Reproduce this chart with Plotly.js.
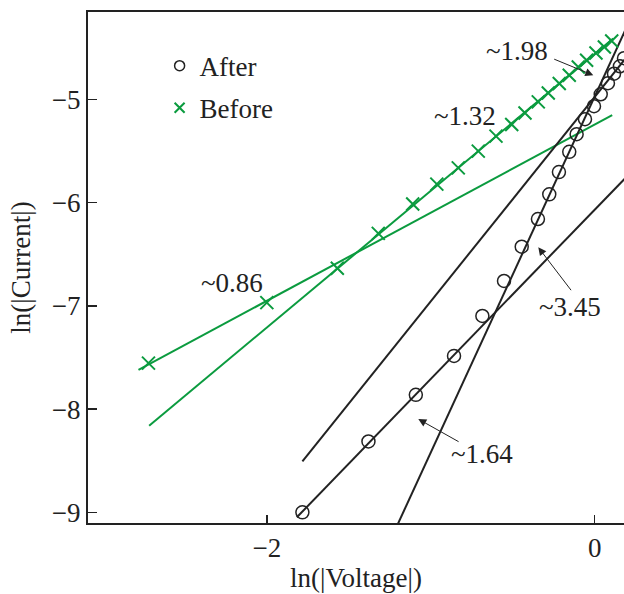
<!DOCTYPE html>
<html>
<head>
<meta charset="utf-8">
<script src="https://cdn.plot.ly/plotly-3.0.1.min.js"></script>
<style>html,body{margin:0;padding:0;background:#fff;}#chart{width:624px;height:594px;}</style>
</head>
<body>
<div id="chart"></div>
<script>
// Measured data: "Before" (green crosses)
var beforeX = [-2.722, -2.000, -1.570, -1.320, -1.110, -0.963, -0.832, -0.710, -0.602, -0.506,
               -0.425, -0.344, -0.283, -0.216, -0.155, -0.100, -0.049, 0.008, 0.059, 0.104];
var beforeY = [-7.554, -6.968, -6.635, -6.297, -6.013, -5.820, -5.662, -5.500, -5.355, -5.242,
               -5.130, -5.023, -4.936, -4.845, -4.765, -4.685, -4.620, -4.549, -4.491, -4.433];
// "After" (black open circles)
var afterX = [-1.783, -1.380, -1.091, -0.858, -0.685, -0.553, -0.445, -0.346, -0.277, -0.218,
              -0.155, -0.110, -0.059, -0.004, 0.037, 0.081, 0.118, 0.154, 0.179];
var afterY = [-9.000, -8.313, -7.861, -7.484, -7.097, -6.758, -6.426, -6.158, -5.919, -5.703,
              -5.507, -5.336, -5.191, -5.065, -4.949, -4.842, -4.750, -4.678, -4.600];
// Fitted lines (end points)
var fit086X = [-2.783, 0.107], fit086Y = [-7.619, -5.152];
var fit132X = [-2.718, 0.113], fit132Y = [-8.160, -4.410];
var fit198X = [-1.783, 0.250], fit198Y = [-8.507, -4.480];
var fit345X = [-1.226, 0.250], fit345Y = [-9.200, -4.110];
var fit164X = [-1.817, 0.250], fit164Y = [-9.048, -5.658];
var slopeLabels = ['~1.98', '~1.32', '~0.86', '~3.45', '~1.64'];
var seriesNames = ['After', 'Before'];
var xTicks = [-2, 0];
var yTicks = [-9, -8, -7, -6, -5];

var GREEN = '#0b9b3f', BLACK = '#222222';
var FONT = 'Liberation Serif, Times New Roman, serif';
var FS = 27;

function lineTrace(x, y, color) {
  return {x: x, y: y, mode: 'lines', type: 'scatter', showlegend: false, hoverinfo: 'skip',
          line: {color: color, width: 2}};
}

var traces = [
  lineTrace(fit086X, fit086Y, GREEN),
  lineTrace(fit132X, fit132Y, GREEN),
  lineTrace(fit198X, fit198Y, BLACK),
  lineTrace(fit345X, fit345Y, BLACK),
  lineTrace(fit164X, fit164Y, BLACK),
  {x: beforeX, y: beforeY, mode: 'markers', type: 'scatter', showlegend: false,
   marker: {symbol: 'x-thin', size: 13, line: {color: GREEN, width: 2}, color: GREEN}},
  {x: afterX, y: afterY, mode: 'markers', type: 'scatter', showlegend: false,
   marker: {symbol: 'circle-open', size: 13, color: BLACK, line: {color: BLACK, width: 1.5}}},
  // legend entries
  {x: [null], y: [null], mode: 'markers', type: 'scatter', name: seriesNames[0], legendgroup: 'a',
   marker: {symbol: 'circle-open', size: 10, color: BLACK, line: {color: BLACK, width: 1.5}}},
  {x: [null], y: [null], mode: 'markers', type: 'scatter', name: seriesNames[1], legendgroup: 'b',
   marker: {symbol: 'x-thin', size: 10, color: GREEN, line: {color: GREEN, width: 2}}}
];

function txt(x, y, t) {
  return {x: x, y: y, xref: 'x', yref: 'y', text: t, showarrow: false,
          font: {family: FONT, size: FS, color: BLACK}, xanchor: 'center', yanchor: 'middle'};
}
function arr(x, y, ax, ay) {
  return {x: x, y: y, ax: ax, ay: ay, xref: 'x', yref: 'y', axref: 'x', ayref: 'y', text: '',
          showarrow: true, arrowhead: 2, arrowsize: 1.6, arrowwidth: 1, arrowcolor: BLACK};
}

var layout = {
  width: 624, height: 594,
  margin: {l: 88, r: 0, t: 12, b: 71},
  paper_bgcolor: '#ffffff', plot_bgcolor: '#ffffff',
  font: {family: FONT, size: FS, color: BLACK},
  showlegend: true,
  legend: {x: 0.1336, y: 0.942, xanchor: 'left', yanchor: 'top', bgcolor: 'rgba(0,0,0,0)',
           font: {family: FONT, size: FS, color: BLACK}, traceorder: 'grouped', tracegroupgap: 4},
  xaxis: {range: [-3.091, 0.179], tickvals: xTicks, ticktext: xTicks.map(function(v){return v < 0 ? '\u2212' + (-v) : String(v);}),
          showgrid: false, zeroline: false, showline: true, mirror: true, linecolor: BLACK, linewidth: 2,
          ticks: 'inside', ticklen: 8, tickwidth: 1.5, tickcolor: BLACK,
          tickfont: {family: FONT, size: FS, color: BLACK},
          title: {text: 'ln(|Voltage|)', font: {family: FONT, size: FS, color: BLACK}, standoff: 6}},
  yaxis: {range: [-9.103, -4.152], tickvals: yTicks, ticktext: yTicks.map(function(v){return '\u2212' + (-v);}),
          showgrid: false, zeroline: false, showline: true, mirror: false, linecolor: BLACK, linewidth: 2,
          ticks: 'inside', ticklen: 9, tickwidth: 1.5, tickcolor: BLACK,
          tickfont: {family: FONT, size: FS, color: BLACK},
          title: {text: 'ln(|Current|)', font: {family: FONT, size: FS, color: BLACK}, standoff: 13}},
  annotations: [
    txt(-0.471, -4.533, slopeLabels[0]),
    arr(-0.0085, -4.765, -0.256, -4.603),
    txt(-0.791, -5.162, slopeLabels[1]),
    txt(-2.215, -6.773, slopeLabels[2]),
    txt(-0.151, -7.015, slopeLabels[3]),
    arr(-0.344, -6.432, -0.137, -6.862),
    txt(-0.690, -8.432, slopeLabels[4]),
    arr(-1.076, -8.096, -0.821, -8.323)
  ]
};

Plotly.newPlot('chart', traces, layout, {displayModeBar: false, staticPlot: true});
</script>
</body>
</html>
